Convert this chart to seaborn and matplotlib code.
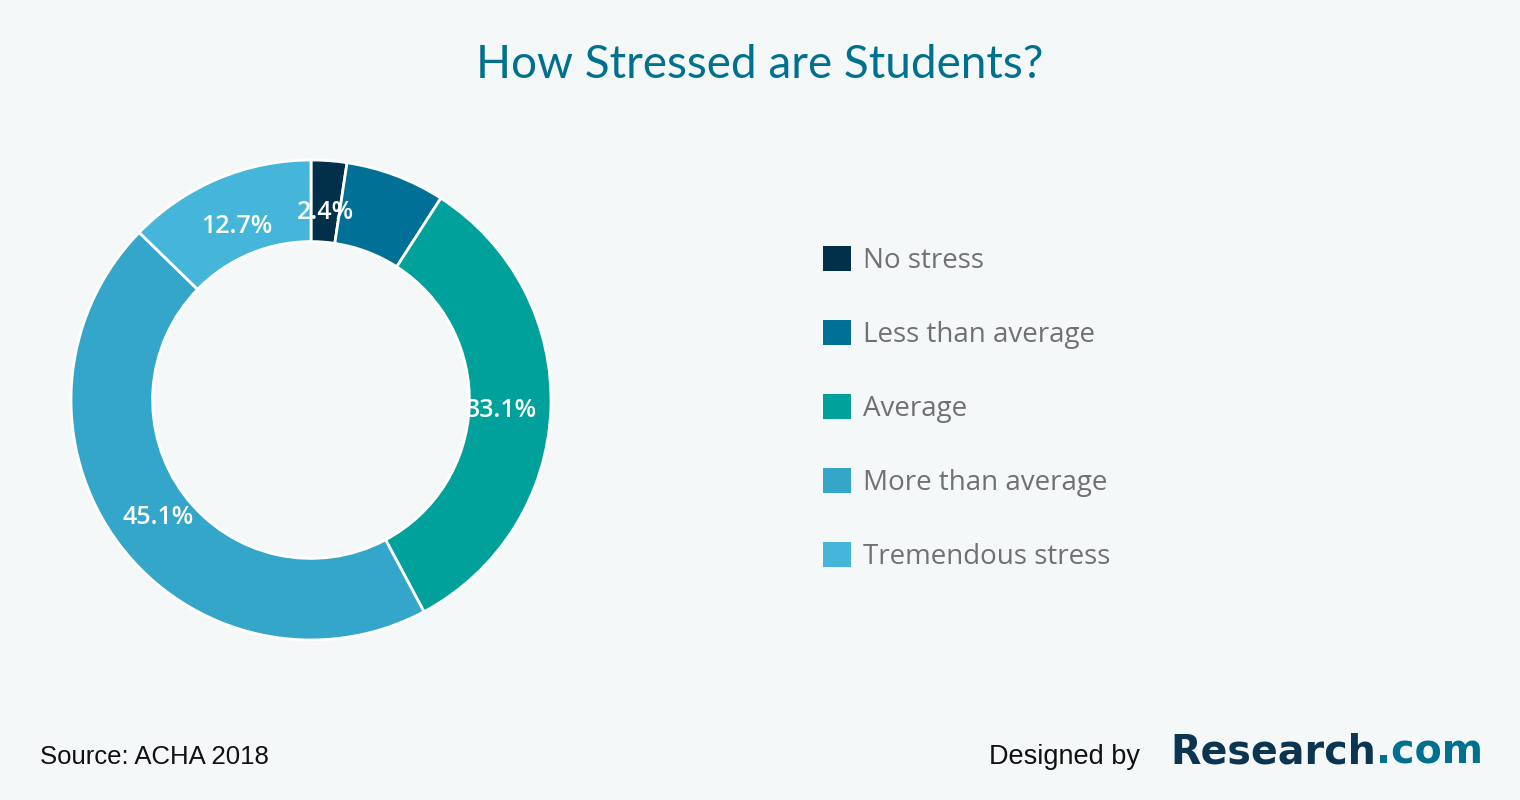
import matplotlib
matplotlib.use("Agg")
import matplotlib.pyplot as plt
import seaborn as sns

categories = ["No stress", "Less than average", "Average", "More than average", "Tremendous stress"]
values = [2.4, 6.7, 33.1, 45.1, 12.7]
value_labels = ["2.4%", "", "33.1%", "45.1%", "12.7%"]
colors = ["#02304a", "#007096", "#00a19a", "#34a6c9", "#45b5da"]

title = "How Stressed are Students?"
source = "Source: ACHA 2018"

sns.set_theme(style="white")
plt.rcParams['font.family'] = ['Open Sans', 'DejaVu Sans']

bg = "#f5f8f9"
fig = plt.figure(figsize=(15.2, 8), dpi=100, facecolor=bg)
palette = sns.color_palette(colors)

ax = fig.add_axes([71/1520, 160/800, 480/1520, 480/800])
ax.set_facecolor(bg)
lab_iter = iter(value_labels)
wedges, texts, autotexts = ax.pie(
    values, colors=palette, startangle=90, counterclock=False,
    radius=1.0, pctdistance=0.796,
    autopct=lambda p: next(lab_iter),
    wedgeprops=dict(width=0.34, edgecolor="white", linewidth=2),
    textprops=dict(color="white", fontsize=18, fontweight="semibold",
                   family=["Open Sans", "DejaVu Sans"]),
)
for t in autotexts:
    t.set_va("center_baseline")
for w in wedges:
    w.set_clip_on(False)
ax.set_xlim(-1.0, 1.0)
ax.set_ylim(-1.0, 1.0)
ax.set_aspect("equal")
ax.axis("off")

leg = fig.legend(
    wedges, categories, loc="upper left", bbox_to_anchor=(823/1520, 1 - 246/800),
    frameon=False, fontsize=20, handlelength=1.0, handleheight=1.0,
    handletextpad=0.45, labelspacing=1.62, borderaxespad=0, borderpad=0,
)
for t in leg.get_texts():
    t.set_color("#6f7173")
for h in leg.legend_handles:
    h.set_edgecolor("none")

fig.text(0.5, 1 - 65/800, title, ha="center", va="center", fontsize=33,
         color="#00708f", family=["Lato", "DejaVu Sans"])
fig.text(40/1520, 1 - 757/800, source, ha="left", va="center", fontsize=18.5,
         color="#111111", family=["Liberation Sans", "DejaVu Sans"])
fig.text(1140/1520, 1 - 757/800, "Designed by", ha="right", va="center", fontsize=19.5,
         color="#111111", family=["Liberation Sans", "DejaVu Sans"])
t1 = fig.text(1170/1520, 1 - 753/800, "Research", ha="left", va="center", fontsize=28.5,
              color="#0b3550", fontweight="bold", family=["DejaVu Sans"])
fig.canvas.draw()
bb = t1.get_window_extent()
fig.text(bb.x1 / 1520, 1 - 753/800, ".com", ha="left", va="center", fontsize=28.5,
         color="#00708f", fontweight="bold", family=["DejaVu Sans"])

fig.savefig("out.png", dpi=100, facecolor=bg)
